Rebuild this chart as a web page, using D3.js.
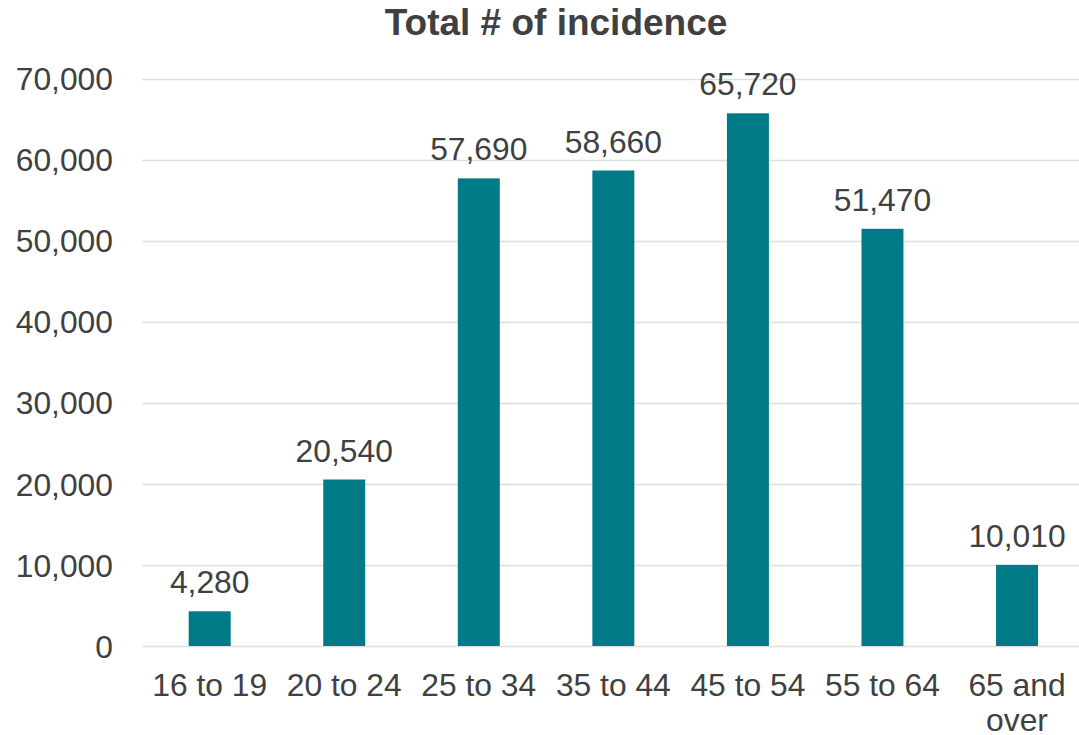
<!DOCTYPE html>
<html><head><meta charset="utf-8">
<script src="https://cdn.jsdelivr.net/npm/d3@7"></script>
<style>
html,body{margin:0;padding:0;background:#fff;}
svg{display:block;font-family:"Liberation Sans",Arial,sans-serif;}
</style></head>
<body><svg id="chart" width="1079" height="735"></svg>
<script>
const categories = ["16 to 19","20 to 24","25 to 34","35 to 44","45 to 54","55 to 64","65 and over"];
const values = [4280,20540,57690,58660,65720,51470,10010];
const yTicks = [0,10000,20000,30000,40000,50000,60000,70000];
const title = "Total # of incidence";

const svg = d3.select("#chart");
const W = 1079, H = 735;
const m = {left:142.4};
const x = d3.scaleBand().domain(categories).range([m.left, 1084.3]).paddingInner(0.688).paddingOuter(0.344);
const y = d3.scaleLinear().domain([0,70000]).range([646, 78.6]);
const fmt = d3.format(",");
const textColor = "#404040";
const fs = 31.8;

// gridlines
svg.append("g").selectAll("line").data(yTicks).join("line")
  .attr("x1", m.left).attr("x2", W)
  .attr("y1", d=>Math.round(y(d))+0.5).attr("y2", d=>Math.round(y(d))+0.5)
  .attr("stroke", "#dedede").attr("stroke-width", 1.5);

// y axis labels
const yAxis = d3.axisLeft(y).tickValues(yTicks).tickFormat(fmt).tickSize(0).tickPadding(0);
const ga = svg.append("g").attr("transform","translate(113,0)").call(yAxis);
ga.select(".domain").remove();
ga.selectAll("text").attr("font-size",fs).attr("fill",textColor).attr("font-family","'Liberation Sans',Arial,sans-serif").attr("dy","0.35em");

// bars
svg.append("g").selectAll("rect").data(values).join("rect")
  .attr("x",(d,i)=>x(categories[i]))
  .attr("width", x.bandwidth())
  .attr("y", d=>y(d))
  .attr("height", d=>y(0)-y(d))
  .attr("fill","#007A87");

// data labels
svg.append("g").selectAll("text").data(values).join("text")
  .attr("x",(d,i)=>x(categories[i])+x.bandwidth()/2)
  .attr("y", d=>y(d)-18)
  .attr("text-anchor","middle")
  .attr("font-size",fs).attr("fill",textColor)
  .text(d=>fmt(d));

// category labels
const xl = svg.append("g").selectAll("text").data(categories).join("text")
  .attr("x", d=>x(d)+x.bandwidth()/2)
  .attr("y", 696)
  .attr("text-anchor","middle")
  .attr("font-size",fs).attr("fill",textColor);
xl.each(function(d){
  const t = d3.select(this);
  if (d === "65 and over") {
    t.append("tspan").attr("x", x(d)+x.bandwidth()/2).text("65 and");
    t.append("tspan").attr("x", x(d)+x.bandwidth()/2).attr("dy",35).text("over");
  } else t.text(d);
});

// title
svg.append("text").attr("x",556).attr("y",35).attr("text-anchor","middle")
  .attr("font-size",37).attr("font-weight","bold").attr("fill",textColor).text(title);
</script></body></html>
